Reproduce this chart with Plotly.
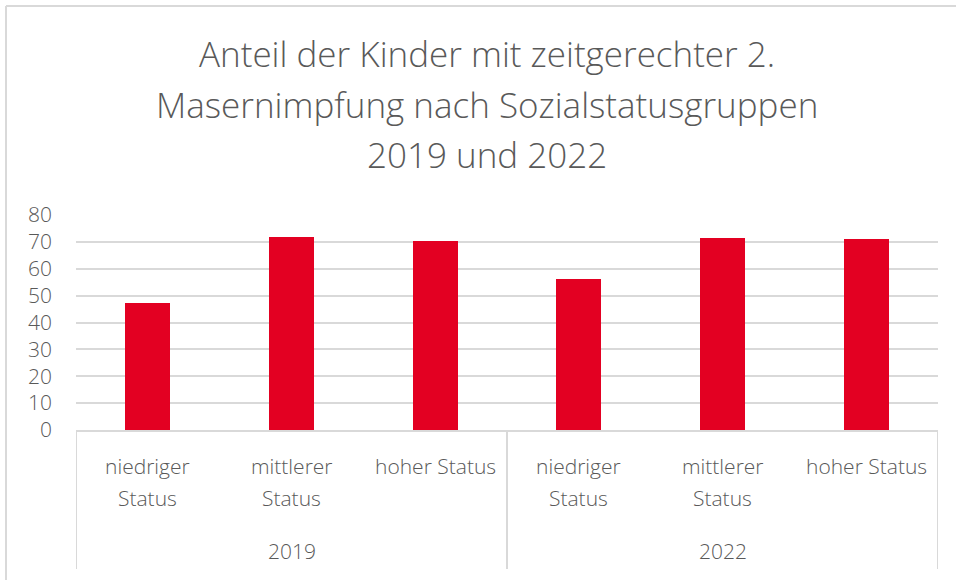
import plotly.graph_objects as go

title_lines = ["Anteil der Kinder mit zeitgerechter 2.",
               "Masernimpfung nach Sozialstatusgruppen",
               "2019 und 2022"]
years = ["2019", "2022"]
status_labels = [["niedriger", "Status"], ["mittlerer", "Status"], ["hoher Status"]]
values_2019 = [47.4, 71.7, 70.3]
values_2022 = [56.1, 71.3, 71.0]
y_ticks = [0, 10, 20, 30, 40, 50, 60, 70, 80]

values = values_2019 + values_2022
xpos = list(range(len(values)))

RED = "#E30022"
GREY_TXT = "#595959"
GRID = "#D9D9D9"
FONT = "Open Sans"

W, H = 956, 580
L, R, T, B = 76, 18, 215, 150
pw, ph = W - L - R, H - T - B

def px_to_paper_x(px):
    return (px - L) / pw

def px_to_paper_y(py):
    return (H - B - py) / ph

fig = go.Figure()
fig.add_trace(go.Bar(
    x=xpos, y=values, width=0.313,
    marker=dict(color=RED, line=dict(width=0)),
    hoverinfo="x+y",
))

annotations = []
for i, line in enumerate(title_lines):
    annotations.append(dict(
        text=line, xref="paper", yref="paper",
        x=px_to_paper_x(487), y=px_to_paper_y(54 + 50 * i),
        xanchor="center", yanchor="middle", showarrow=False,
        font=dict(family=FONT, size=35, color=GREY_TXT, weight=300),
    ))
labels_all = status_labels * len(years)
for i, lines in enumerate(labels_all):
    for j, ln in enumerate(lines):
        annotations.append(dict(
            text=ln, xref="x", yref="paper", x=xpos[i],
            y=px_to_paper_y(466 + 32 * j),
            xanchor="center", yanchor="middle", showarrow=False,
            font=dict(family=FONT, size=21, color=GREY_TXT, weight=300),
        ))
n = len(status_labels)
for g, yr in enumerate(years):
    annotations.append(dict(
        text=yr, xref="x", yref="paper", x=g * n + (n - 1) / 2,
        y=px_to_paper_y(551), xanchor="center", yanchor="middle",
        showarrow=False, font=dict(family=FONT, size=21, color=GREY_TXT, weight=300),
    ))

shapes = []
for g in range(len(years) + 1):
    shapes.append(dict(
        type="line", xref="x", yref="paper",
        x0=g * n - 0.5, x1=g * n - 0.5, y0=0, y1=px_to_paper_y(569),
        line=dict(color=GRID, width=2),
    ))
shapes.append(dict(type="line", xref="paper", yref="paper",
                   x0=px_to_paper_x(6), x1=px_to_paper_x(6),
                   y0=px_to_paper_y(6), y1=px_to_paper_y(585),
                   line=dict(color=GRID, width=2)))
shapes.append(dict(type="line", xref="paper", yref="paper",
                   x0=px_to_paper_x(6), x1=px_to_paper_x(960),
                   y0=px_to_paper_y(6), y1=px_to_paper_y(6),
                   line=dict(color=GRID, width=2)))

fig.update_layout(
    width=W, height=H,
    margin=dict(l=L, r=R, t=T, b=B),
    paper_bgcolor="white", plot_bgcolor="white",
    showlegend=False, bargap=0,
    annotations=annotations, shapes=shapes,
    xaxis=dict(range=[-0.5, len(values) - 0.5], showticklabels=False,
               showgrid=False, zeroline=False, showline=True,
               linecolor=GRID, linewidth=2, fixedrange=True),
    yaxis=dict(range=[0, 80], tickvals=y_ticks, showgrid=True,
               gridcolor=GRID, gridwidth=2, zeroline=False, showline=False,
               tickfont=dict(family=FONT, size=21, color=GREY_TXT, weight=300),
               ticklabelstandoff=23, fixedrange=True),
)

fig.write_html("out.html", config={"displayModeBar": False},
               post_script="document.body.style.margin='0';document.body.style.padding='0';")
